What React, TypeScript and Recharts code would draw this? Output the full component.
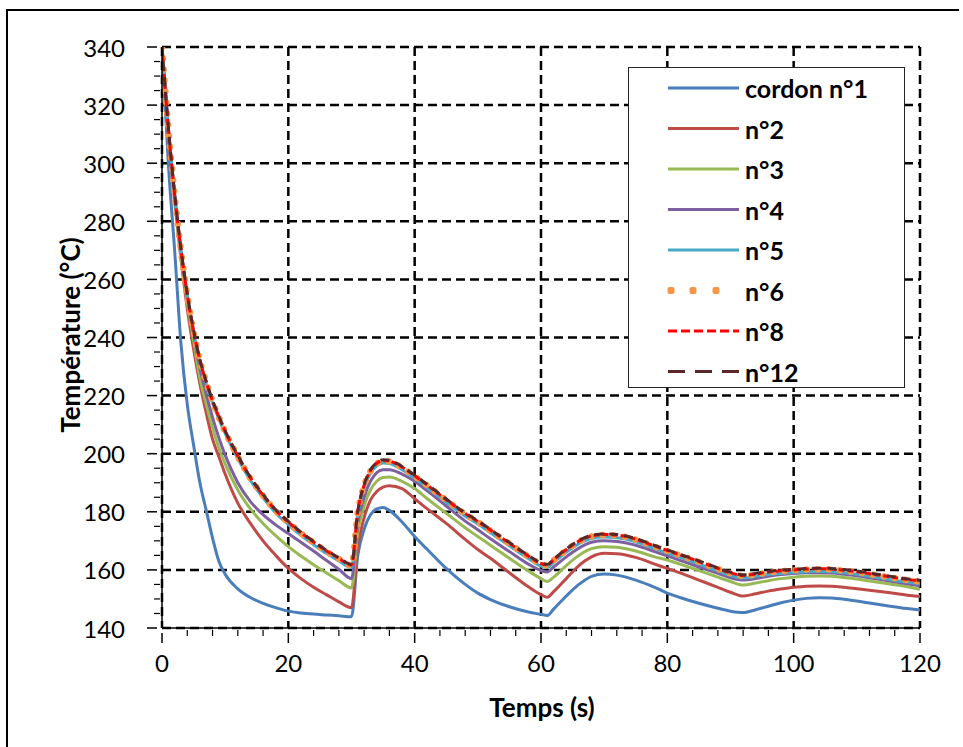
import React from 'react';
import { LineChart, Line, XAxis, YAxis, CartesianGrid } from 'recharts';

const times = [0, 1, 2, 3, 4, 5, 6, 7, 8, 9, 10, 12, 14, 16, 18, 20, 22, 24, 26, 28, 30, 31, 32, 33, 34, 35, 36, 38, 40, 42, 45, 48, 50, 52, 55, 58, 60, 61, 62, 64, 66, 68, 70, 72, 75, 78, 80, 82, 85, 88, 90, 92, 94, 96, 98, 100, 102, 104, 106, 108, 110, 112, 115, 118, 120];

const n1 = [340, 300, 270, 238, 217, 203, 190, 180.5, 171, 163, 158.5, 153.5, 150.5, 148.5, 147, 145.8, 145.2, 144.8, 144.5, 144.2, 143.9, 165, 174, 179, 181, 181.5, 180.5, 176.5, 171.5, 167, 160.5, 155, 152, 149.8, 147.3, 145.5, 144.7, 144.3, 146.5, 151, 155, 157.8, 158.6, 158.2, 156.5, 154, 152, 150.5, 148.5, 146.8, 145.8, 145.3, 146.3, 147.5, 148.7, 149.6, 150.2, 150.4, 150.3, 149.9, 149.3, 148.6, 147.6, 146.7, 146.2];
const n2 = [340, 310, 287, 267, 250, 236, 224, 214, 205, 199, 193, 183, 176, 170, 165, 160.5, 157, 154, 151.5, 149, 147, 168, 178, 184, 187, 188.5, 189, 188, 184.5, 181, 176, 170.5, 167, 164, 159, 154.2, 151.5, 150.6, 152.5, 157, 161.5, 164.5, 165.7, 165.6, 164.3, 162, 160.5, 159, 156.5, 154, 152.3, 151, 151.8, 152.7, 153.4, 154, 154.4, 154.5, 154.4, 154, 153.5, 153, 152.2, 151.3, 150.8];
const n3 = [340, 311, 288, 268, 252, 239, 226, 217, 209, 202, 196.5, 187.5, 181, 176, 171.8, 168, 164.8, 161.8, 159, 156.3, 153.8, 173, 182, 187.5, 190.5, 191.8, 192, 190.5, 188, 184.5, 179.5, 174.5, 171.5, 168.5, 164, 159.6, 157, 156, 157.5, 161.5, 165, 167.3, 168, 167.8, 166.5, 164.5, 163.4, 162, 159.8, 157.5, 156, 154.8, 155.5, 156.3, 157, 157.5, 157.8, 157.9, 157.8, 157.4, 156.9, 156.2, 155.2, 154.2, 153.3];
const n4 = [340, 312, 289, 270, 254, 241, 229.5, 220.5, 212.5, 205.5, 199.5, 190, 183.5, 179, 175.5, 172.5, 169.5, 166.5, 163.3, 160.2, 157, 176, 185, 190.5, 193.5, 194.5, 194.5, 193, 190.5, 187.2, 182, 176.8, 173.8, 170.7, 166.3, 162, 159.8, 159.3, 161, 164.5, 167.5, 169.5, 170, 169.8, 168.5, 166.3, 164.8, 163.3, 161, 158.8, 157.3, 156.5, 157, 157.8, 158.4, 158.8, 159, 159, 158.9, 158.5, 158, 157.3, 156.3, 155.2, 154.5];
const n5 = [340, 312, 289, 270, 254.5, 242, 231.5, 224, 217.5, 212, 207, 198.3, 190.8, 184.8, 179.6, 175.6, 171.9, 168.7, 165.7, 163.1, 160.8, 179.3, 188.3, 193.3, 195.8, 196.8, 196.6, 194.5, 191.5, 188.3, 183.3, 178.5, 175.8, 172.8, 168.3, 163.9, 161.3, 160.8, 162.6, 166.1, 169, 170.8, 171.3, 171.1, 169.7, 167.3, 165.8, 164.3, 162, 159.6, 158.1, 157.2, 157.7, 158.4, 158.8, 159.1, 159.4, 159.5, 159.4, 159, 158.5, 157.8, 156.8, 155.8, 155.3];
const n6 = [340, 312, 289, 270, 254.5, 242, 232, 224.5, 218, 212.5, 207.5, 199, 191.5, 185.5, 180.3, 176.3, 172.6, 169.4, 166.4, 163.8, 161.5, 180, 189, 194, 196.5, 197.5, 197.3, 195.2, 192.2, 189, 184, 179.2, 176.5, 173.5, 169, 164.6, 162, 161.5, 163.3, 166.8, 169.7, 171.5, 172, 171.8, 170.4, 168, 166.5, 165, 162.7, 160.3, 158.8, 157.9, 158.4, 159.1, 159.5, 159.8, 160.1, 160.2, 160.1, 159.7, 159.2, 158.5, 157.5, 156.5, 156];
const n8 = [340, 312.3, 289.3, 270.3, 254.8, 242.3, 232.2, 224.7, 218.2, 212.7, 207.7, 199.2, 191.7, 185.7, 180.5, 176.5, 172.8, 169.6, 166.6, 164, 161.7, 180.2, 189.2, 194.2, 196.7, 197.7, 197.5, 195.4, 192.4, 189.2, 184.2, 179.4, 176.7, 173.7, 169.2, 164.8, 162.2, 161.7, 163.5, 167, 169.9, 171.7, 172.2, 172, 170.6, 168.2, 166.7, 165.2, 162.9, 160.5, 159, 158.1, 158.6, 159.3, 159.7, 160, 160.3, 160.4, 160.3, 159.9, 159.4, 158.7, 157.7, 156.7, 156.2];
const n12 = [340, 312.5, 289.5, 270.5, 255, 242.5, 232.4, 224.9, 218.4, 212.9, 207.9, 199.4, 191.9, 185.9, 180.7, 176.7, 173, 169.8, 166.8, 164.2, 161.9, 180.3, 189.3, 194.4, 196.9, 197.9, 197.7, 195.6, 192.6, 189.4, 184.4, 179.6, 176.9, 173.9, 169.4, 165, 162.4, 161.9, 163.7, 167.2, 170.1, 171.9, 172.4, 172.2, 170.8, 168.4, 166.9, 165.4, 163.1, 160.7, 159.2, 158.3, 158.8, 159.5, 159.9, 160.2, 160.5, 160.6, 160.5, 160.1, 159.6, 158.9, 157.9, 156.9, 156.4];

const xMajor = [0, 20, 40, 60, 80, 100, 120];
const yMajor = [140, 160, 180, 200, 220, 240, 260, 280, 300, 320, 340];
const xMinor = [4, 8, 12, 16, 24, 28, 32, 36, 44, 48, 52, 56, 64, 68, 72, 76, 84, 88, 92, 96, 104, 108, 112, 116];
const yMinor = [145, 150, 155, 165, 170, 175, 185, 190, 195, 205, 210, 215, 225, 230, 235, 245, 250, 255, 265, 270, 275, 285, 290, 295, 305, 310, 315, 325, 330, 335];

const series = [
  { key: 'n1', name: 'cordon n°1', color: '#4a7ebb', dash: undefined, width: 3, cap: 'butt' },
  { key: 'n2', name: 'n°2', color: '#be4b48', dash: undefined, width: 3, cap: 'butt' },
  { key: 'n3', name: 'n°3', color: '#98b954', dash: undefined, width: 3, cap: 'butt' },
  { key: 'n4', name: 'n°4', color: '#7d60a0', dash: undefined, width: 3, cap: 'butt' },
  { key: 'n5', name: 'n°5', color: '#46aac5', dash: undefined, width: 3, cap: 'butt' },
  { key: 'n6', name: 'n°6', color: '#f79646', dash: '0.1 11', width: 6.5, cap: 'round' },
  { key: 'n8', name: 'n°8', color: '#ff0000', dash: '6 3', width: 3, cap: 'butt' },
  { key: 'n12', name: 'n°12', color: '#5a2828', dash: '9 6', width: 3, cap: 'butt' },
];

const data = times.map((t, i) => ({
  t, n1: n1[i], n2: n2[i], n3: n3[i], n4: n4[i], n5: n5[i], n6: n6[i], n8: n8[i], n12: n12[i],
}));

const font = 'Lato, "Open Sans", sans-serif';

// major ticks stick out with a label, minor ones point into the plot
const XTick = (props: any) => {
  const { x, y, payload } = props;
  const v = payload.value;
  if (xMajor.includes(v)) {
    return (
      <g>
        <line x1={x} x2={x} y1={y - 3} y2={y + 7} stroke="#000" strokeWidth={1.5} />
        <text x={x} y={y + 36} textAnchor="middle" fontFamily={font} fontSize={24} fill="#000">{v}</text>
      </g>
    );
  }
  return <line x1={x} x2={x} y1={y} y2={y - 6} stroke="#000" strokeWidth={1.2} />;
};

const YTick = (props: any) => {
  const { x, y, payload } = props;
  const v = payload.value;
  if (yMajor.includes(v)) {
    return (
      <g>
        <line x1={x - 7} x2={x + 3} y1={y} y2={y} stroke="#000" strokeWidth={1.5} />
        <text x={x - 29} y={y} textAnchor="end" dominantBaseline="central" fontFamily={font} fontSize={24} fill="#000">{v}</text>
      </g>
    );
  }
  return <line x1={x} x2={x + 6} y1={y} y2={y} stroke="#000" strokeWidth={1.2} />;
};

const LegendBox = () => (
  <div style={{ position: 'absolute', left: 628, top: 67, width: 277, height: 321, background: '#fff', border: '1px solid #222', boxSizing: 'border-box' }}>
    <svg width={277} height={321}>
      {series.map((s, i) => {
        const y = 20 + i * 40.5;
        return (
          <g key={s.key}>
            {s.key === 'n6' ? (
              [42, 64, 87].map((x) => <rect key={x} x={x - 3.5} y={y - 3.5} width={7} height={7} rx={2} fill={s.color} />)
            ) : (
              <line x1={39} x2={110} y1={y} y2={y} stroke={s.color} strokeWidth={3}
                strokeDasharray={s.key === 'n8' ? '9 4' : s.key === 'n12' ? '17 10' : undefined} />
            )}
            <text x={116} y={y} dominantBaseline="central" fontFamily={font} fontWeight="bold" fontSize={25} fill="#000">{s.name}</text>
          </g>
        );
      })}
    </svg>
  </div>
);

export default function App() {
  return (
    <div style={{ position: 'absolute', left: 0, top: 0, width: 963, height: 747, background: '#fff', overflow: 'hidden' }}>
      <div style={{ position: 'absolute', left: 6, top: 9, width: 951, height: 736, borderLeft: '2px solid #000', borderTop: '2px solid #000' }} />
      <LineChart width={963} height={747} data={data} margin={{ top: 47, right: 43, left: 62, bottom: 59 }}>
        <CartesianGrid stroke="#000" strokeWidth={2.5} strokeDasharray="9 5" horizontalValues={yMajor} verticalValues={xMajor} />
        <XAxis dataKey="t" type="number" domain={[0, 120]} ticks={[...xMajor, ...xMinor]} allowDataOverflow height={60} interval={0}
          axisLine={{ stroke: '#000', strokeWidth: 1.5 }} tickLine={false} tick={<XTick />} />
        <YAxis type="number" domain={[140, 340]} ticks={[...yMajor, ...yMinor]} allowDataOverflow width={100} interval={0}
          axisLine={{ stroke: '#000', strokeWidth: 1.5 }} tickLine={false} tick={<YTick />} />
        {series.map((s) => (
          <Line key={s.key} dataKey={s.key} name={s.name} type="monotone" stroke={s.color} strokeWidth={s.width}
            strokeDasharray={s.dash} strokeLinecap={s.cap as any} dot={false} activeDot={false} isAnimationActive={false} />
        ))}
      </LineChart>
      <LegendBox />
      <div style={{ position: 'absolute', left: 70, top: 335, transform: 'translate(-50%, -50%) rotate(-90deg)', whiteSpace: 'nowrap',
        fontFamily: font, fontWeight: 'bold', fontSize: 26, color: '#000' }}>Température (°C)</div>
      <div style={{ position: 'absolute', left: 542, top: 707, transform: 'translate(-50%, -50%)', whiteSpace: 'nowrap',
        fontFamily: font, fontWeight: 'bold', fontSize: 26, color: '#000' }}>Temps (s)</div>
    </div>
  );
}
